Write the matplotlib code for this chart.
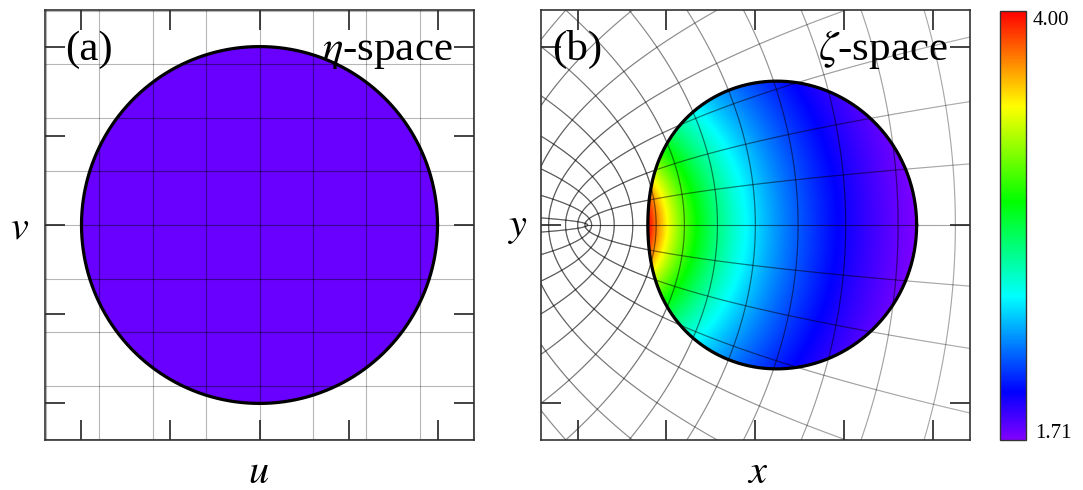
import numpy as np
import matplotlib
matplotlib.use("Agg")
import matplotlib.pyplot as plt
from matplotlib.colors import LinearSegmentedColormap, Normalize
from matplotlib.collections import LineCollection
from matplotlib.patches import Polygon
from matplotlib.cm import ScalarMappable

plt.rcParams['mathtext.fontset'] = 'stix'
plt.rcParams['font.family'] = ['Liberation Serif', 'DejaVu Serif']

# ---------------- data ----------------
grid_u = [-2.4, -2.1, -1.8, -1.5, -1.2, -0.9, -0.6, -0.3, 0.0, 0.3, 0.6, 0.9,
          1.2, 1.5, 1.8, 2.1]
grid_v = [-3.0, -2.7, -2.4, -2.1, -1.8, -1.5, -1.2, -0.9, -0.6, -0.3, 0.0,
          0.3, 0.6, 0.9, 1.2, 1.5, 1.8, 2.1, 2.4, 2.7, 3.0]
u_line_start = -2.5          # parameter range start for the v = const lines
disk_radius = 1.0
map_quad = 0.2               # zeta = eta + map_quad * eta**2
value_scale = 2.4            # field = value_scale / |d zeta / d eta|
eta_value = 1.76             # uniform field value in eta-space
vmin, vmax = 1.71, 4.00
cbar_labels = ["4.00", "1.71"]
cmap_positions = [0.0, 0.111, 0.333, 0.556, 0.778, 1.0]
cmap_colors = ["#8000ff", "#0000ff", "#00ffff", "#00ff00", "#ffff00", "#ff0000"]
eta_ticks = [-1.0, -0.5, 0.0, 0.5, 1.0]
zeta_xticks = [-1.323, -0.662, 0.0, 0.662, 1.323]
zeta_yticks = [-1.323, 0.0, 1.323]
eta_lim = 1.205
zeta_lim = 1.597

cmap = LinearSegmentedColormap.from_list("hue", list(zip(cmap_positions, cmap_colors)))
norm = Normalize(vmin=vmin, vmax=vmax)


def zmap(eta):
    return eta + map_quad * eta ** 2


def dmap(eta):
    return np.abs(1 + 2 * map_quad * eta)


def grid_curves():
    curves = []
    t = np.linspace(min(grid_v), max(grid_v), 1500)
    for u in grid_u:
        curves.append(u + 1j * t)
    t = np.linspace(u_line_start, max(grid_u), 1500)
    for v in grid_v:
        curves.append(t + 1j * v)
    return curves


def segments(curves, mapped):
    segs, mids = [], []
    for c in curves:
        z = zmap(c) if mapped else c
        pts = np.column_stack([z.real, z.imag])
        segs.extend(np.stack([pts[:-1], pts[1:]], axis=1))
        mids.extend(0.5 * (c[:-1] + c[1:]))
    return np.array(segs), np.array(mids)


fig = plt.figure(figsize=(10.83, 4.90), dpi=100)
ax_a = fig.add_axes([45 / 1083, 50 / 490, 429 / 1083, 430 / 490])
ax_b = fig.add_axes([540.7 / 1083, 50 / 490, 429.3 / 1083, 430 / 490])
cax = fig.add_axes([1000 / 1083, 50 / 490, 25.7 / 1083, 429.3 / 490])

theta = np.linspace(0, 2 * np.pi, 721)
circle = disk_radius * np.exp(1j * theta)
curves = grid_curves()

# ---------------- panel (a) ----------------
segs_a, _ = segments(curves, mapped=False)
ax_a.add_collection(LineCollection(segs_a, colors=[(0, 0, 0, 0.3)], linewidths=0.8,
                                   zorder=1, capstyle='butt'))
disk_a = Polygon(np.column_stack([circle.real, circle.imag]), closed=True,
                 facecolor=cmap(norm(eta_value)), edgecolor='none', zorder=2)
ax_a.add_patch(disk_a)
clip_a = Polygon(np.column_stack([circle.real, circle.imag]), closed=True,
                 transform=ax_a.transData)
lc_in_a = LineCollection(segs_a, colors=[(0, 0, 0, 0.5)], linewidths=0.8, zorder=3)
lc_in_a.set_clip_path(clip_a)
ax_a.add_collection(lc_in_a)
ax_a.plot(circle.real, circle.imag, color='black', lw=2.3, zorder=4)
ax_a.set_xlim(-eta_lim, eta_lim)
ax_a.set_ylim(-eta_lim, eta_lim)
ax_a.set_xticks(eta_ticks)
ax_a.set_yticks(eta_ticks)

# ---------------- panel (b) ----------------
segs_b, mids_b = segments(curves, mapped=True)
deriv = dmap(mids_b)
alpha_b = np.clip(0.6 / deriv ** 1.2, 0.28, 0.9)
cols_b = np.zeros((len(alpha_b), 4))
cols_b[:, 3] = alpha_b
ax_b.add_collection(LineCollection(segs_b, colors=cols_b, linewidths=0.8, zorder=1,
                                   capstyle='butt'))

zc = zmap(circle)
n = 900
xs = np.linspace(-zeta_lim, zeta_lim, n)
X, Y = np.meshgrid(xs, xs)
Z = X + 1j * Y
s = np.sqrt((Z + 0.25 / map_quad) / map_quad)      # inverse of the map
eta_inv = s - 0.5 / map_quad
field = value_scale / dmap(eta_inv)
field = np.ma.masked_where(np.abs(eta_inv) > disk_radius * 1.01, field)
im = ax_b.imshow(field, extent=(-zeta_lim, zeta_lim, -zeta_lim, zeta_lim), origin='lower',
                 cmap=cmap, norm=norm, interpolation='bilinear', zorder=2)
clip_b = Polygon(np.column_stack([zc.real, zc.imag]), closed=True, transform=ax_b.transData)
im.set_clip_path(clip_b)
lc_in_b = LineCollection(segs_b, colors=[(0, 0, 0, 0.6)], linewidths=0.8, zorder=3)
clip_b2 = Polygon(np.column_stack([zc.real, zc.imag]), closed=True, transform=ax_b.transData)
lc_in_b.set_clip_path(clip_b2)
ax_b.add_collection(lc_in_b)
ax_b.plot(zc.real, zc.imag, color='black', lw=2.3, zorder=4)
ax_b.set_xlim(-zeta_lim, zeta_lim)
ax_b.set_ylim(-zeta_lim, zeta_lim)
ax_b.set_xticks(zeta_xticks)
ax_b.set_yticks(zeta_yticks)

for ax in (ax_a, ax_b):
    ax.set_aspect('auto')
    ax.tick_params(direction='in', length=14.4, width=1.2, color='#222222',
                   top=True, right=True, labelbottom=False, labelleft=False)
    for sp in ax.spines.values():
        sp.set_linewidth(1.2)
        sp.set_color('#333333')
        sp.set_zorder(6)

fs = 31
ax_a.text(0.047, 0.884, "(a)", transform=ax_a.transAxes, fontsize=fs, va='baseline', zorder=7)
ax_a.text(0.949, 0.884, r"$\eta$-space", transform=ax_a.transAxes, fontsize=fs,
          ha='right', va='baseline', zorder=7)
ax_b.text(0.026, 0.884, "(b)", transform=ax_b.transAxes, fontsize=fs, va='baseline', zorder=7)
ax_b.text(0.949, 0.884, r"$\zeta$-space", transform=ax_b.transAxes, fontsize=fs,
          ha='right', va='baseline', zorder=7)

fl = 29
fig.text(259 / 1083, (490 - 483) / 490, r"$u$", fontsize=fl, ha='center', va='baseline')
fig.text(19.5 / 1083, (490 - 238) / 490, r"$v$", fontsize=fl, ha='center', va='baseline')
fig.text(757.5 / 1083, (490 - 483) / 490, r"$x$", fontsize=fl, ha='center', va='baseline')
fig.text(518 / 1083, (490 - 236) / 490, r"$y$", fontsize=fl, ha='center', va='baseline')

# ---------------- colorbar ----------------
sm = ScalarMappable(norm=norm, cmap=cmap)
cb = fig.colorbar(sm, cax=cax)
cb.set_ticks([])
cb.outline.set_linewidth(1.0)
cb.outline.set_edgecolor('#333333')
cax.text(1.28, 1.0, cbar_labels[0], transform=cax.transAxes, fontsize=15, va='top', ha='left')
cax.text(1.36, -0.008, cbar_labels[1], transform=cax.transAxes, fontsize=15, va='bottom', ha='left')

fig.savefig("out.png", dpi=100)
